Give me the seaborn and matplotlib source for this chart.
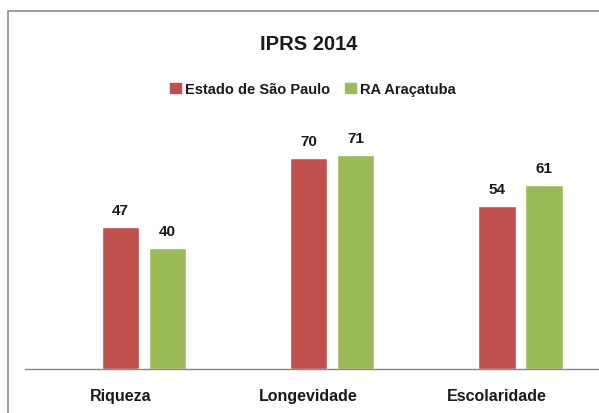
import matplotlib
matplotlib.use("Agg")
import matplotlib.pyplot as plt
import seaborn as sns
import pandas as pd
from matplotlib.patches import Rectangle

categories = ["Riqueza", "Longevidade", "Escolaridade"]
series_names = ["Estado de São Paulo", "RA Araçatuba"]
sp_values = [47, 70, 54]
ra_values = [40, 71, 61]
colors = ["#C0504D", "#9BBB59"]

df = pd.DataFrame({
    "categoria": categories * 2,
    "serie": [series_names[0]] * 3 + [series_names[1]] * 3,
    "valor": sp_values + ra_values,
})

sns.set_theme(style="white")
fam = ["Liberation Sans", "DejaVu Sans"]
plt.rcParams["font.family"] = fam

W, H = 599, 414
fig = plt.figure(figsize=(W / 100, H / 100), dpi=100)
fig.patch.set_facecolor("white")

# axes: left at x=25, baseline at y=370, 0..80 -> 3.02 px/unit
ax_left = 25 / W
ax_bottom = (H - 370) / H
ax_height = (80 * 3.02) / H
ax = fig.add_axes([ax_left, ax_bottom, 1 - ax_left, ax_height])

sns.barplot(data=df, x="categoria", y="valor", hue="serie", order=categories,
            hue_order=series_names, palette=colors, width=0.5, gap=0.21,
            saturation=1, ax=ax, legend=False)

ax.set_ylim(0, 80)
ax.set_xlim(-(144 - 25) / 188.25, 2 + (599 - 520.5) / 188.25)
for s in ["top", "right", "left"]:
    ax.spines[s].set_visible(False)
ax.spines["bottom"].set_color("#888888")
ax.spines["bottom"].set_linewidth(1)
ax.set_yticks([])
ax.set_xlabel("")
ax.set_ylabel("")
# category labels sit under the first bar of each group in the reference
ax.set_xticks([i - 0.125 for i in range(len(categories))], categories)
ax.tick_params(axis="x", length=0, pad=14)
for lbl in ax.get_xticklabels():
    lbl.set_fontweight("bold")
    lbl.set_fontsize(11.5)
    lbl.set_color("#1a1a1a")

for cont in ax.containers:
    ax.bar_label(cont, fmt="%d", padding=7, fontsize=11, fontweight="bold", color="#1a1a1a")

# title
fig.text(309 / W, 1 - 45 / H, "IPRS 2014", ha="center", va="center",
         fontsize=14.5, fontweight="bold", color="#1a1a1a")

# legend
handles = [Rectangle((0, 0), 1, 1, color=c) for c in colors]
leg = fig.legend(handles, series_names, loc="center", bbox_to_anchor=(313 / W, 1 - 90 / H),
                 ncol=2, frameon=False, handlelength=0.75, handleheight=0.75,
                 handletextpad=0.3, columnspacing=1.0,
                 prop={"family": fam, "weight": "bold", "size": 10.5})
for t in leg.get_texts():
    t.set_color("#1a1a1a")

# figure border (top and left visible)
fig.patches.append(Rectangle((8 / W, -0.1), 1.2, 1 - 12 / H + 0.1,
                             transform=fig.transFigure, fill=False,
                             edgecolor="#8c8c8c", linewidth=1.2))

fig.savefig("out.png", dpi=100)
